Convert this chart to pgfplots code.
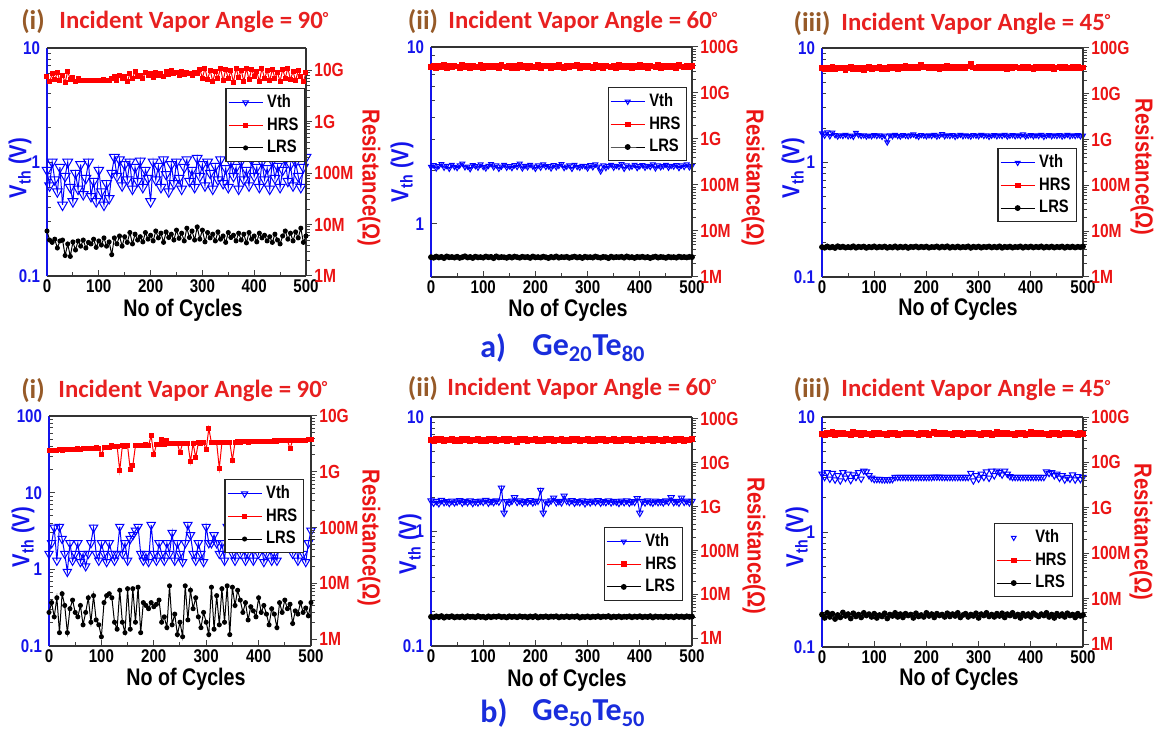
\documentclass[border=0pt]{standalone}
\usepackage{fontspec}
\usepackage{pgfplots}
\usepackage{pgfplotstable}
\pgfplotsset{compat=1.18}
\setmainfont{Liberation Sans}
\newfontfamily\narrow[FakeStretch=0.82]{Liberation Sans}
\newfontfamily\calib{Carlito}

\definecolor{vblue}{RGB}{20,20,235}
\definecolor{rred}{RGB}{235,20,20}
\definecolor{tred}{RGB}{232,32,32}
\definecolor{brn}{RGB}{150,90,40}
\definecolor{capblue}{RGB}{25,45,220}

\newcommand\tickfont{\narrow\bfseries\fontsize{9.2}{10}\selectfont}
\newcommand\rtickfont{\narrow\bfseries\fontsize{9.5}{10}\selectfont}
\newcommand\legfont{\narrow\bfseries\fontsize{9}{10}\selectfont}
\newcommand\labfont{\narrow\bfseries\fontsize{12.3}{13}\selectfont}
\newcommand\cycfont{\narrow\bfseries\fontsize{12}{13}\selectfont}
\newcommand\titlefont{\calib\bfseries\fontsize{12.4}{13}\selectfont}
\newcommand\capfont{\calib\bfseries\fontsize{16}{17}\selectfont}

\pgfplotsset{
  vthaxis/.style={scale only axis, xmin=0, xmax=500,
    tick style={black!75, line width=0.5pt}, major tick length=3pt, minor tick length=1.8pt,
    axis x line*=bottom, axis y line*=left,
    every outer x axis line/.append style={-, black!80, line width=0.7pt},
    every outer y axis line/.append style={-, vblue, line width=0.9pt},
    xtick={0,100,200,300,400,500}, xticklabels={0,100,200,300,400,500},
    minor x tick num=1, tick align=inside,
    xticklabel style={font=\tickfont, black, inner sep=0pt, yshift=-1.5pt},
    yticklabel style={font=\tickfont, vblue}},
  resaxis/.style={scale only axis, xmin=0, xmax=500,
    tick style={black!75, line width=0.5pt}, major tick length=3pt, minor tick length=1.8pt,
    axis x line*=top, axis y line*=right, xtick=\empty,
    every outer x axis line/.append style={-, black!80, line width=0.7pt},
    every outer y axis line/.append style={-, black!80, line width=0.7pt},
    tick align=outside,
    yticklabel style={font=\rtickfont, rred, inner sep=1pt},
    legend cell align=left,
    legend style={font=\legfont, draw=black!85, line width=0.6pt, inner sep=1pt,
      row sep=-0.5pt, fill=white}},
}
\tikzset{
  vthplot/.style={blue, line width=0.5pt, mark=triangle, mark options={rotate=180, solid}},
  hrsplot/.style={red, line width=0.5pt, mark=square*, mark size=1pt},
  lrsplot/.style={black, line width=0.5pt, mark=*, mark size=1pt},
}

% Ge20Te80, 90 deg (resistances in MOhm)
\pgfplotstableread{
c v h l
0 0.85 7500 7.5
5 0.62 6000 5.0
10 1.00 8500 4.5
15 0.70 6500 5.2
20 0.55 9000 3.5
25 0.90 6200 4.8
30 0.42 8000 5.0
35 0.75 5800 2.5
40 1.00 9500 4.2
45 0.60 6500 2.4
50 0.45 7200 4.6
55 0.80 6000 3.2
60 0.58 6800 4.8
65 0.95 6300 3.8
70 0.52 6300 5.0
75 0.72 6300 3.5
80 1.00 6300 4.5
85 0.50 6300 4.2
90 0.68 6300 5.2
95 0.45 6300 3.6
100 0.85 6400 4.8
105 0.55 6300 4.0
110 0.42 6500 5.5
115 0.65 6300 3.8
120 0.48 6400 4.6
125 0.80 6800 2.6
130 1.10 7500 5.5
135 0.75 6200 4.2
140 1.05 8000 6.0
145 0.62 6800 3.8
150 0.95 7500 5.8
155 0.70 6000 4.5
160 1.00 8500 7.0
165 0.58 7000 4.2
170 0.90 9500 6.5
175 0.68 7500 5.0
180 1.02 8000 5.8
185 0.60 7000 4.6
190 0.85 9000 7.0
195 0.72 7800 5.2
200 0.45 8500 6.2
205 1.00 7200 4.8
210 0.70 9200 7.5
215 0.92 8000 5.5
220 0.60 8800 6.8
225 1.05 7500 4.5
230 0.78 9500 7.2
235 0.55 8200 5.6
240 0.95 10000 6.5
245 0.65 8500 5.0
250 1.00 9000 7.8
255 0.72 8000 5.4
260 0.58 9500 6.8
265 0.90 8300 4.8
270 1.05 9000 8.5
275 0.68 8500 5.6
280 0.85 8000 7.5
285 0.60 9200 5.0
290 1.08 8500 9.0
295 0.75 10500 5.2
300 0.95 7000 7.8
305 0.62 11000 4.6
310 1.00 6500 7.0
315 0.80 10000 5.5
320 0.58 6000 6.5
325 0.92 9500 4.8
330 0.70 7000 7.2
335 1.05 11000 5.2
340 0.65 6200 6.0
345 0.88 10500 4.5
350 0.60 6800 7.0
355 1.00 9800 5.6
360 0.75 5800 6.2
365 0.90 11000 4.8
370 0.58 7200 6.8
375 1.02 10000 5.0
380 0.70 6000 6.5
385 0.85 11000 4.4
390 0.62 6500 7.0
395 1.05 10500 5.2
400 0.75 7500 6.0
405 0.90 9500 4.6
410 0.60 6000 6.8
415 1.00 11000 5.5
420 0.70 6800 6.2
425 0.88 10000 4.8
430 0.58 6200 5.8
435 1.02 10500 4.5
440 0.72 7000 6.5
445 0.92 9000 5.0
450 0.60 6000 4.2
455 0.85 10500 6.0
460 1.05 7000 7.5
465 0.68 11000 5.2
470 0.95 6500 6.8
475 0.62 9500 4.8
480 1.00 6200 7.2
485 0.75 10000 5.5
490 0.60 7500 8.5
495 0.90 6000 4.5
500 1.10 9000 6.0
}\tA

% Ge20Te80, 60 deg
\pgfplotstableread{
c v h l
0 2.10 36500 2.70
5 2.15 38500 2.62
10 2.06 35000 2.78
15 2.12 39000 2.66
20 2.18 37000 2.74
25 2.08 40500 2.58
30 2.13 35500 2.80
35 2.05 38000 2.68
40 2.16 36000 2.72
45 2.10 39500 2.64
50 2.07 37500 2.76
55 2.14 35000 2.60
60 2.19 40000 2.70
65 2.09 36500 2.82
70 2.11 38500 2.65
75 2.04 34500 2.73
80 2.15 39000 2.59
85 2.12 37000 2.77
90 2.08 36000 2.67
95 2.17 40000 2.71
100 2.10 35500 2.63
105 2.06 38000 2.79
110 2.13 37000 2.68
115 2.18 39500 2.74
120 2.09 36000 2.57
125 2.14 38500 2.81
130 2.05 35000 2.66
135 2.11 40500 2.72
140 2.16 37500 2.69
145 2.08 36000 2.61
150 2.12 39000 2.75
155 2.07 35500 2.64
160 2.15 38000 2.78
165 2.10 34000 2.70
170 2.19 40000 2.62
175 2.06 36500 2.76
180 2.13 38500 2.68
185 2.09 35500 2.73
190 2.16 39500 2.60
195 2.11 37000 2.79
200 2.05 36000 2.67
205 2.14 40000 2.71
210 2.08 35000 2.64
215 2.17 38500 2.77
220 2.10 37500 2.69
225 2.12 39000 2.58
230 2.06 35500 2.74
235 2.15 38000 2.66
240 2.09 36500 2.80
245 2.13 40500 2.63
250 2.18 37000 2.72
255 2.07 35000 2.68
260 2.11 39500 2.75
265 2.14 36000 2.61
270 2.05 38000 2.70
275 2.16 37500 2.78
280 2.10 40000 2.65
285 2.08 35500 2.73
290 2.13 38500 2.59
295 2.12 36000 2.76
300 2.06 39000 2.67
305 2.15 37000 2.71
310 2.09 35000 2.64
315 2.17 40000 2.79
320 2.11 36500 2.68
325 1.98 38000 2.62
330 2.14 35500 2.74
335 2.07 39500 2.70
340 2.12 37500 2.57
345 2.16 36000 2.77
350 2.08 38500 2.66
355 2.13 35000 2.72
360 2.10 40500 2.69
365 2.18 37000 2.75
370 2.05 38000 2.63
375 2.14 36000 2.80
380 2.09 39000 2.67
385 2.11 35500 2.71
390 2.16 38500 2.60
395 2.07 37000 2.74
400 2.12 40000 2.68
405 2.15 36000 2.76
410 2.08 38000 2.65
415 2.13 35000 2.72
420 2.10 39500 2.58
425 2.17 37500 2.70
430 2.06 36500 2.78
435 2.14 40000 2.64
440 2.09 35500 2.73
445 2.12 38000 2.69
450 2.16 37000 2.61
455 2.08 39000 2.75
460 2.13 36000 2.67
465 2.11 38500 2.71
470 2.15 35000 2.63
475 2.07 40000 2.77
480 2.14 37500 2.68
485 2.10 36000 2.72
490 2.17 39500 2.66
495 2.09 37000 2.74
500 2.13 38000 2.70
}\tB

% Ge20Te80, 45 deg
\pgfplotstableread{
c v h l
0 1.80 36000 4.50
5 1.72 34000 4.35
10 1.84 37500 4.65
15 1.70 35000 4.40
20 1.83 38000 4.55
25 1.74 34500 4.30
30 1.69 36500 4.70
35 1.73 35500 4.45
40 1.71 37000 4.60
45 1.75 33500 4.38
50 1.70 36000 4.52
55 1.72 38500 4.42
60 1.68 34000 4.68
65 1.82 36500 4.36
70 1.74 35000 4.58
75 1.71 37500 4.47
80 1.73 33500 4.62
85 1.69 36000 4.33
90 1.72 38000 4.55
95 1.70 34500 4.44
100 1.74 37000 4.66
105 1.71 35500 4.39
110 1.73 39000 4.57
115 1.68 34000 4.46
120 1.72 37500 4.63
125 1.50 35000 4.34
130 1.73 38500 4.54
135 1.70 36000 4.41
140 1.75 39500 4.67
145 1.71 35000 4.37
150 1.69 38000 4.59
155 1.74 36500 4.43
160 1.72 40000 4.61
165 1.70 35500 4.32
170 1.73 38500 4.56
175 1.76 37000 4.48
180 1.71 39500 4.64
185 1.68 36000 4.40
190 1.74 42000 4.58
195 1.72 37500 4.45
200 1.70 39000 4.62
205 1.73 35500 4.36
210 1.71 38000 4.53
215 1.75 36500 4.47
220 1.69 39500 4.65
225 1.72 35000 4.38
230 1.77 38500 4.60
235 1.70 36000 4.44
240 1.73 40000 4.68
245 1.71 36500 4.35
250 1.74 38000 4.57
255 1.68 35500 4.42
260 1.72 39000 4.63
265 1.75 37000 4.39
270 1.70 38500 4.55
275 1.73 36000 4.46
280 1.71 39500 4.66
285 1.69 46000 4.33
290 1.74 37500 4.59
295 1.72 36500 4.45
300 1.70 39000 4.62
305 1.75 35500 4.37
310 1.71 38000 4.56
315 1.73 36000 4.48
320 1.68 39500 4.64
325 1.72 37000 4.40
330 1.74 38500 4.58
335 1.70 35500 4.43
340 1.73 39000 4.67
345 1.71 36500 4.34
350 1.75 38000 4.57
355 1.69 35000 4.46
360 1.72 39500 4.61
365 1.74 36500 4.38
370 1.70 38000 4.55
375 1.73 37500 4.47
380 1.71 35500 4.65
385 1.76 39000 4.36
390 1.69 36000 4.59
395 1.72 38500 4.44
400 1.74 37000 4.63
405 1.70 35000 4.41
410 1.73 39500 4.57
415 1.71 36500 4.45
420 1.75 38000 4.66
425 1.68 35500 4.37
430 1.72 39000 4.58
435 1.74 36000 4.43
440 1.70 38500 4.62
445 1.73 35000 4.39
450 1.71 37500 4.56
455 1.74 39000 4.46
460 1.69 36000 4.64
465 1.72 38500 4.35
470 1.75 35500 4.59
475 1.70 37000 4.44
480 1.73 39500 4.61
485 1.71 36000 4.40
490 1.74 38000 4.57
495 1.70 35500 4.47
500 1.72 37500 4.63
}\tC

% Ge50Te50, 90 deg
\pgfplotstableread{
c v h l
0 1.6 2400 3.0
5 2.2 2450 4.5
10 3.5 2400 2.5
15 1.3 2450 5.5
20 3.6 2500 1.3
25 2.5 2450 6.5
30 1.6 2500 4.0
35 0.93 2500 1.3
40 2.2 2550 3.5
45 1.3 2500 5.0
50 1.6 2550 3.0
55 2.2 2600 2.5
60 1.25 2550 4.0
65 1.6 2600 1.8
70 1.1 2600 3.0
75 1.6 2650 5.5
80 2.2 2600 2.0
85 3.5 2650 6.0
90 1.6 2700 2.2
95 1.3 2650 1.8
100 2.2 2000 1.1
105 1.6 2750 4.5
110 1.25 2700 6.0
115 2.2 2750 6.5
120 1.6 3000 5.5
125 1.3 2800 2.0
130 1.6 2850 1.5
135 3.6 1050 7.5
140 1.6 2900 2.0
145 2.2 2850 1.3
150 1.3 2900 8.0
155 2.5 1100 1.5
160 2.8 1300 8.0
165 3.2 2950 2.0
170 3.6 3000 8.5
175 1.6 2950 1.3
180 1.3 3000 4.5
185 1.6 3050 4.0
190 1.25 3000 3.5
195 3.8 4400 4.5
200 1.6 2000 3.8
205 1.3 3100 4.2
210 2.2 3050 5.0
215 1.6 3800 2.0
220 1.3 3100 2.5
225 2.2 3700 1.6
230 1.6 3150 9.0
235 3.0 3200 1.8
240 1.3 3150 2.8
245 2.2 3200 1.2
250 1.6 2200 2.0
255 1.25 3250 1.1
260 2.2 3200 9.0
265 3.8 3250 2.2
270 2.8 1500 7.5
275 1.6 3250 3.5
280 1.3 1800 5.5
285 2.2 3300 2.5
290 1.6 3250 1.6
295 1.25 3300 3.0
300 3.6 2500 2.0
305 2.2 6000 1.2
310 2.2 3300 8.5
315 2.8 3350 1.5
320 2.2 3300 6.0
325 1.6 1150 1.8
330 2.2 3350 8.0
335 1.3 3400 2.0
340 3.6 3350 9.0
345 2.2 3400 1.2
350 1.6 1600 8.5
355 1.3 3400 4.0
360 2.2 3450 7.5
365 1.6 3400 5.0
370 2.2 3450 3.0
375 1.3 3450 4.5
380 1.6 3400 2.2
385 2.2 3500 3.8
390 1.3 3450 3.2
395 3.0 3500 2.5
400 1.6 3500 5.5
405 2.2 3550 3.0
410 1.25 3500 4.0
415 1.6 3550 2.8
420 2.2 3500 1.8
425 1.3 3550 3.5
430 1.6 3600 2.8
435 1.3 3550 1.6
440 2.2 3600 4.5
445 2.8 3600 3.0
450 3.2 3600 5.0
455 2.5 3650 3.5
460 2.2 2600 4.2
465 1.6 3650 1.9
470 2.8 3650 3.2
475 1.3 3700 2.8
480 2.2 3650 4.5
485 1.6 3700 3.0
490 1.25 3700 3.6
495 2.2 3750 2.6
500 3.2 3800 4.5
}\tD

% Ge50Te50, 60 deg
\pgfplotstableread{
c v h l
0 1.86 33000 3.10
5 1.78 31500 3.02
10 1.84 34500 3.18
15 1.76 32000 3.05
20 1.88 35000 3.22
25 1.80 31000 2.96
30 1.83 33500 3.14
35 1.77 32500 3.06
40 1.85 34000 3.20
45 1.79 30500 3.00
50 1.82 33000 3.12
55 1.87 31500 3.04
60 1.78 34500 3.16
65 1.84 32000 2.98
70 1.80 35000 3.19
75 1.86 31000 3.08
80 1.77 33500 3.13
85 1.83 32500 3.01
90 1.79 34000 3.21
95 1.85 30500 3.07
100 1.81 33000 3.11
105 1.88 31500 2.97
110 1.78 34500 3.17
115 1.84 32000 3.03
120 1.80 35500 3.15
125 1.86 31000 3.09
130 1.82 33500 3.20
135 2.40 32000 3.05
140 1.45 34000 3.12
145 1.83 31500 2.99
150 1.79 35000 3.18
155 1.85 32500 3.06
160 1.98 33000 3.14
165 1.81 30000 3.02
170 1.86 34500 3.19
175 1.78 32000 3.08
180 1.84 35000 3.13
185 1.80 31000 3.01
190 1.87 33500 3.16
195 1.79 32500 3.05
200 1.83 34000 3.21
205 1.85 31500 2.98
210 2.30 33000 3.12
215 1.45 31000 3.07
220 1.82 34500 3.17
225 1.78 32000 3.03
230 1.86 35000 3.15
235 1.97 31500 3.09
240 1.80 33500 3.19
245 1.84 32500 3.00
250 1.79 34000 3.13
255 2.05 30500 3.06
260 1.85 33000 3.18
265 1.81 31500 3.04
270 1.87 34500 3.14
275 1.78 32000 3.08
280 1.83 35500 3.20
285 1.80 31000 2.97
290 1.86 33500 3.11
295 1.76 32000 3.05
300 1.84 34000 3.16
305 1.79 31500 3.02
310 1.85 33000 3.13
315 1.81 30500 3.07
320 1.87 34500 3.19
325 1.78 32500 3.04
330 1.83 35000 3.15
335 1.80 31000 3.09
340 1.86 33500 3.21
345 1.79 32000 3.01
350 1.84 34000 3.14
355 1.82 31500 3.06
360 1.77 33000 3.17
365 1.85 30500 3.03
370 1.80 34500 3.12
375 1.86 32000 3.08
380 1.78 35000 3.18
385 1.83 31500 3.02
390 1.81 33500 3.15
395 1.95 32500 3.07
400 1.45 34000 3.19
405 1.84 31000 3.04
410 1.79 33000 3.13
415 1.86 32000 3.06
420 1.81 34500 3.20
425 1.78 31500 2.99
430 1.85 35000 3.16
435 1.80 32500 3.08
440 1.83 33500 3.12
445 1.79 31000 3.03
450 1.86 34000 3.17
455 1.82 32000 3.06
460 1.98 33500 3.14
465 1.80 30500 3.01
470 1.84 34500 3.19
475 1.78 32500 3.07
480 1.97 35000 3.15
485 1.81 31500 3.04
490 1.85 33000 3.18
495 1.79 32000 3.09
500 1.84 34000 3.13
}\tE

% Ge50Te50, 45 deg
\pgfplotstableread{
c v h l
0 3.20 43000 4.5
5 3.00 41000 3.8
10 3.30 45000 4.9
15 2.90 42000 4.0
20 3.25 46000 4.7
25 2.85 40000 3.6
30 3.10 44000 4.4
35 2.80 42500 3.9
40 3.30 45500 5.0
45 2.95 41500 4.2
50 3.20 43500 4.6
55 2.82 40500 3.7
60 3.15 46000 4.8
65 3.00 42000 4.1
70 3.30 44500 4.5
75 2.90 41000 3.9
80 3.40 45000 4.9
85 3.35 42500 4.3
90 3.10 43500 4.6
95 2.95 40500 4.0
100 2.88 44000 4.7
105 2.88 42000 3.8
110 2.88 45500 4.4
115 2.86 41500 4.1
120 2.86 43000 4.8
125 2.86 40000 3.7
130 2.86 44500 4.5
135 2.88 42000 4.2
140 3.00 45000 4.9
145 3.00 41000 4.0
150 3.00 43500 4.6
155 3.00 42500 3.9
160 3.00 44000 4.7
165 3.00 41500 4.3
170 3.00 45500 4.5
175 3.00 42000 3.8
180 3.00 43000 4.8
185 3.00 40500 4.1
190 3.00 44500 4.4
195 3.00 42500 4.0
200 3.00 45000 4.9
205 3.00 41000 4.2
210 3.00 43500 4.6
215 3.02 46500 3.9
220 3.02 42000 4.7
225 3.02 44000 4.3
230 3.00 41500 4.5
235 3.00 45000 4.0
240 3.00 42500 4.8
245 3.00 43500 4.1
250 3.00 40500 4.6
255 3.00 44500 4.2
260 3.00 42000 4.9
265 3.00 45500 3.9
270 3.00 41000 4.4
275 3.00 43000 4.7
280 3.00 44000 4.0
285 3.25 41500 4.5
290 2.80 45000 4.2
295 3.10 42500 4.8
300 2.90 43500 3.8
305 3.20 40500 4.6
310 3.00 44500 4.3
315 3.35 42000 4.9
320 2.95 45500 4.1
325 3.40 41000 4.5
330 3.10 43000 4.0
335 3.40 46000 4.7
340 3.30 42500 4.2
345 3.15 44000 4.8
350 3.40 41500 3.9
355 3.20 45000 4.6
360 3.05 42000 4.3
365 3.00 43500 4.9
370 3.00 40500 4.1
375 3.00 44500 4.5
380 3.00 42500 3.8
385 3.00 45500 4.7
390 3.00 41000 4.2
395 3.00 43000 4.6
400 3.00 47000 4.0
405 3.00 42000 4.8
410 3.00 44000 4.4
415 3.00 41500 4.1
420 3.00 45000 4.6
425 3.00 42500 4.3
430 3.35 43500 4.9
435 3.25 40500 4.0
440 3.30 44500 4.5
445 3.10 42000 3.8
450 3.20 45500 4.7
455 2.95 41000 4.2
460 3.10 43000 4.6
465 2.85 44000 4.0
470 3.00 41500 4.8
475 2.90 45000 4.3
480 3.15 42500 4.5
485 2.85 43500 3.9
490 3.05 40500 4.7
495 2.88 44500 4.2
500 3.00 42000 4.4
}\tF

\begin{document}
\begin{tikzpicture}
\useasboundingbox (0,0) rectangle (577pt,364.5pt);

% ---------------- a) Ge20Te80 ----------------
\begin{semilogyaxis}[vthaxis, at={(23.5pt,226.5pt)}, anchor=south west, width=129.5pt, height=114pt,
  ymin=0.1, ymax=10, ytick={0.1,1,10}, yticklabels={0.1,1,10}]
\addplot[vthplot, mark size=2.8pt] table[x=c,y=v]{\tA};
\end{semilogyaxis}
\begin{semilogyaxis}[resaxis, at={(23.5pt,226.5pt)}, anchor=south west, width=129.5pt, height=114pt,
  ymin=1, ymax=27000, ytick={1,10,100,1000,10000}, yticklabels={1M,10M,100M,1G,10G},
  legend style={at={(0.996,0.825)}, anchor=north east}]
\addlegendimage{vthplot, mark size=1.6pt}\addlegendentry{Vth}
\addplot[hrsplot] table[x=c,y=h]{\tA};\addlegendentry{HRS}
\addplot[lrsplot] table[x=c,y=l]{\tA};\addlegendentry{LRS}
\end{semilogyaxis}

\begin{semilogyaxis}[vthaxis, at={(215.5pt,226pt)}, anchor=south west, width=130.5pt, height=115pt,
  ymin=0.5, ymax=10, ytick={1,10}, yticklabels={1,10}]
\addplot[vthplot, mark size=1.4pt] table[x=c,y=v]{\tB};
\end{semilogyaxis}
\begin{semilogyaxis}[resaxis, at={(215.5pt,226pt)}, anchor=south west, width=130.5pt, height=115pt,
  ymin=1, ymax=100000, ytick={1,10,100,1000,10000,100000}, yticklabels={1M,10M,100M,1G,10G,100G},
  legend style={at={(0.981,0.826)}, anchor=north east}]
\addlegendimage{vthplot, mark size=1.4pt}\addlegendentry{Vth}
\addplot[hrsplot, mark size=1.2pt] table[x=c,y=h]{\tB};\addlegendentry{HRS}
\addplot[lrsplot, mark size=1.2pt] table[x=c,y=l]{\tB};\addlegendentry{LRS}
\end{semilogyaxis}

\begin{semilogyaxis}[vthaxis, at={(411pt,226pt)}, anchor=south west, width=130.5pt, height=114.5pt,
  ymin=0.1, ymax=10, ytick={0.1,1,10}, yticklabels={0.1,1,10}]
\addplot[vthplot, mark size=1.4pt] table[x=c,y=v]{\tC};
\end{semilogyaxis}
\begin{semilogyaxis}[resaxis, at={(411pt,226pt)}, anchor=south west, width=130.5pt, height=114.5pt,
  ymin=1, ymax=100000, ytick={1,10,100,1000,10000,100000}, yticklabels={1M,10M,100M,1G,10G,100G},
  legend style={at={(0.977,0.563)}, anchor=north east}]
\addlegendimage{vthplot, mark size=1.4pt}\addlegendentry{Vth}
\addplot[hrsplot, mark size=1.2pt] table[x=c,y=h]{\tC};\addlegendentry{HRS}
\addplot[lrsplot, mark size=1.2pt] table[x=c,y=l]{\tC};\addlegendentry{LRS}
\end{semilogyaxis}

% ---------------- b) Ge50Te50 ----------------
\begin{semilogyaxis}[vthaxis, at={(24.5pt,41.5pt)}, anchor=south west, width=131pt, height=115pt,
  ymin=0.1, ymax=100, ytick={0.1,1,10,100}, yticklabels={0.1,1,10,100}]
\addplot[vthplot, mark size=2.4pt] table[x=c,y=v]{\tD};
\end{semilogyaxis}
\begin{semilogyaxis}[resaxis, at={(24.5pt,41.5pt)}, anchor=south west, width=131pt, height=115pt,
  ymin=0.75, ymax=10000, ytick={1,10,100,1000,10000}, yticklabels={1M,10M,100M,1G,10G},
  legend style={at={(0.973,0.726)}, anchor=north east}]
\addlegendimage{vthplot, mark size=1.8pt}\addlegendentry{Vth}
\addplot[hrsplot] table[x=c,y=h]{\tD};\addlegendentry{HRS}
\addplot[lrsplot] table[x=c,y=l]{\tD};\addlegendentry{LRS}
\end{semilogyaxis}

\begin{semilogyaxis}[vthaxis, at={(215.5pt,41.5pt)}, anchor=south west, width=130.5pt, height=114.5pt,
  ymin=0.1, ymax=10, ytick={0.1,1,10}, yticklabels={0.1,1,10}]
\addplot[vthplot, mark size=1.8pt] table[x=c,y=v]{\tE};
\end{semilogyaxis}
\begin{semilogyaxis}[resaxis, at={(215.5pt,41.5pt)}, anchor=south west, width=130.5pt, height=114.5pt,
  ymin=0.67, ymax=110000, ytick={1,10,100,1000,10000,100000}, yticklabels={1M,10M,100M,1G,10G,100G},
  legend style={at={(0.966,0.52)}, anchor=north east}]
\addlegendimage{vthplot, mark size=1.4pt}\addlegendentry{Vth}
\addplot[hrsplot, mark size=1.2pt] table[x=c,y=h]{\tE};\addlegendentry{HRS}
\addplot[lrsplot, mark size=1.2pt] table[x=c,y=l]{\tE};\addlegendentry{LRS}
\end{semilogyaxis}

\begin{semilogyaxis}[vthaxis, at={(411pt,41pt)}, anchor=south west, width=130.5pt, height=115pt,
  ymin=0.1, ymax=10, ytick={0.1,1,10}, yticklabels={0.1,1,10}]
\addplot[vthplot, only marks, mark size=1.8pt] table[x=c,y=v]{\tF};
\end{semilogyaxis}
\begin{semilogyaxis}[resaxis, at={(411pt,41pt)}, anchor=south west, width=130.5pt, height=115pt,
  ymin=0.87, ymax=100000, ytick={1,10,100,1000,10000,100000}, yticklabels={1M,10M,100M,1G,10G,100G},
  legend style={at={(0.962,0.539)}, anchor=north east}]
\addlegendimage{vthplot, only marks, mark size=1.4pt}\addlegendentry{Vth}
\addplot[hrsplot, mark size=1.2pt] table[x=c,y=h]{\tF};\addlegendentry{HRS}
\addplot[lrsplot, mark size=1.2pt] table[x=c,y=l]{\tF};\addlegendentry{LRS}
\end{semilogyaxis}

% ---------------- titles and labels ----------------
\begin{scope}[x=0.5pt, y=-0.5pt, yshift=364.5pt]
  \foreach \lx/\ly/\num/\tx/\ty/\ang in {33/22/(i)/59/22/90, 423/22/(ii)/448/22/60, 812/24/(iii)/841/24/45,
        33/391/(i)/58/391/90, 423/389/(ii)/447/389/60, 812/390/(iii)/841/390/45}{
    \node[font=\calib\bfseries\fontsize{13.5}{14}\selectfont, text=brn, inner sep=0] at (\lx,\ly) {\num};
    \node[anchor=west, font=\titlefont, text=tred, inner sep=0] at (\tx,\ty) {Incident Vapor Angle = \ang\raisebox{0.4ex}{\fontsize{8}{8}\selectfont°}};
  }
  \foreach \vx/\vy/\rx/\ry in {20/168/369/178, 402/172/753/178, 793/168/1142/167,
        23/537/369/538, 410/544/754/546, 797/537/1141/532}{
    \node[rotate=90, font=\labfont, text=vblue, inner sep=0] at (\vx,\vy) {V\textsubscript{th} (V)};
    \node[rotate=-90, font=\labfont, text=rred, inner sep=0] at (\rx,\ry) {Resistance(Ω)};
  }
  % axis titles below the cycle ticks, placed by their baseline
  \foreach \cx/\cy in {183/316, 568/316, 958/315, 186/685, 567/686, 959/685}{
    \node[font=\cycfont, text=black, inner sep=0, anchor=base] at (\cx,\cy) {No of Cycles};
  }
  \node[anchor=west, font=\capfont, text=capblue, inner sep=0] at (480,348) {a)};
  \node[anchor=west, font=\capfont, text=capblue, inner sep=0] at (532,348) {Ge\textsubscript{20}Te\textsubscript{80}};
  \node[anchor=west, font=\capfont, text=capblue, inner sep=0] at (480,713) {b)};
  \node[anchor=west, font=\capfont, text=capblue, inner sep=0] at (532,713) {Ge\textsubscript{50}Te\textsubscript{50}};
\end{scope}
\end{tikzpicture}
\end{document}
